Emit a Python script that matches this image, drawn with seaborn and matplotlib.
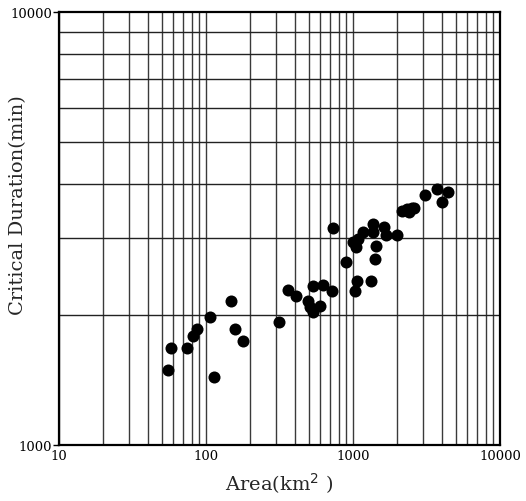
import matplotlib
matplotlib.use("Agg")
import matplotlib.pyplot as plt
import seaborn as sns
import pandas as pd
from matplotlib.ticker import FixedLocator, NullFormatter, FixedFormatter

area = [57.5, 55.4, 74.6, 81.9, 86.4, 106.4, 113.4, 147.2, 156.8, 177.7,
        315, 361, 409, 496, 510, 537, 597, 537, 628, 716,
        735, 896, 1032, 1060, 995, 1048, 1087, 1175, 1374, 1361,
        1626, 1677, 1434, 1412, 1319, 2001, 2143, 2319, 2507, 2416,
        2612, 3090, 3709, 4447, 4010]
duration = [1672, 1492, 1672, 1788, 1853, 1975, 1433, 2154, 1853, 1736,
            1920, 2277, 2208, 2154, 2080, 2032, 2090, 2333, 2342, 2272,
            3171, 2642, 2272, 2395, 2938, 2861, 2990, 3099, 3238, 3099,
            3183, 3055, 2876, 2689, 2395, 3060, 3476, 3508, 3521, 3458,
            3521, 3780, 3902, 3833, 3646]

x_ticks = [10, 100, 1000, 10000]
x_tick_labels = ["10", "100", "1000", "10000"]
y_ticks = [1000, 10000]
y_tick_labels = ["1000", "10000"]

df = pd.DataFrame({"Area": area, "Duration": duration})

sns.set_theme(style="white")
plt.rcParams["font.family"] = ["DejaVu Serif"]

fig = plt.figure(figsize=(5.26, 5.02), dpi=100)
ax = fig.add_axes([59/526, 56/502, 441/526, 433/502])

ax.set_xscale("log")
ax.set_yscale("log")
ax.set_xlim(10, 10000)
ax.set_ylim(1000, 10000)

# grid lines
vgrid = [m * 10**e for e in range(1, 4) for m in range(1, 10)] + [10000]
hgrid = [m * 1000 for m in range(2, 10)]
for v in vgrid:
    ax.axvline(v, color="#3a3a3a", lw=1.0, zorder=1)
for h in hgrid:
    ax.axhline(h, color="#222222", lw=1.0, zorder=1)

sns.scatterplot(data=df, x="Area", y="Duration", ax=ax, color="black",
                s=75, edgecolor="black", linewidth=0, zorder=3, legend=False)

ax.xaxis.set_major_locator(FixedLocator(x_ticks))
ax.xaxis.set_major_formatter(FixedFormatter(x_tick_labels))
ax.xaxis.set_minor_locator(FixedLocator([]))
ax.yaxis.set_major_locator(FixedLocator(y_ticks))
ax.yaxis.set_major_formatter(FixedFormatter(y_tick_labels))
ax.yaxis.set_minor_locator(FixedLocator([]))
ax.xaxis.set_minor_formatter(NullFormatter())
ax.yaxis.set_minor_formatter(NullFormatter())

ax.tick_params(axis="x", length=0, labelsize=9.5, pad=3, colors="black")
ax.tick_params(axis="y", length=4, width=1, direction="out", left=True,
               labelsize=9.5, pad=1, colors="black")

for sp in ax.spines.values():
    sp.set_color("black")
    sp.set_linewidth(1.6)
    sp.set_visible(True)

ax.set_xlabel("Area(km$^2$ )", fontsize=14, labelpad=6)
ax.set_ylabel("Critical Duration(min)", fontsize=14)
ax.yaxis.set_label_coords(-0.073, 0.557)

fig.savefig("out.png", dpi=100)
